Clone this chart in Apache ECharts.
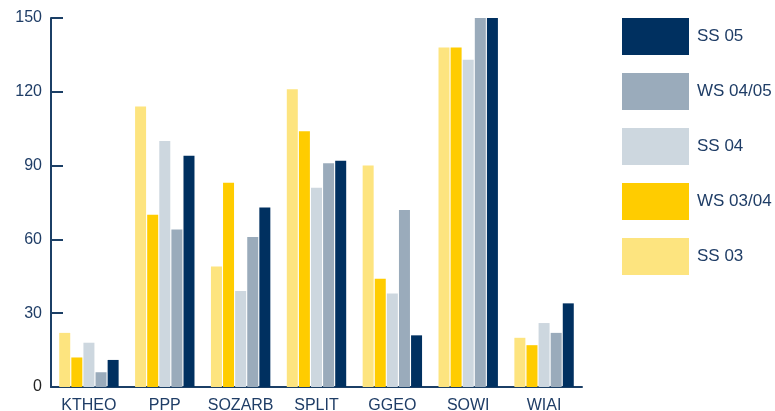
<!DOCTYPE html>
<html><head><meta charset="utf-8">
<script src="https://cdn.jsdelivr.net/npm/echarts@6/dist/echarts.min.js"></script>
<style>html,body{margin:0;padding:0;background:#fff}#c{width:775px;height:411px}</style>
</head><body><div id="c"></div>
<script>
const categories = ['KTHEO','PPP','SOZARB','SPLIT','GGEO','SOWI','WIAI'];
const seriesNames = ['SS 03','WS 03/04','SS 04','WS 04/05','SS 05'];
const ss03   = [22, 114, 49, 121, 90, 138, 20];
const ws0304 = [12, 70, 83, 104, 44, 138, 17];
const ss04   = [18, 100, 39, 81, 38, 133, 26];
const ws0405 = [6, 64, 61, 91, 72, 150, 22];
const ss05   = [11, 94, 73, 92, 21, 150, 34];
const yTicks = [0, 30, 60, 90, 120, 150];

const colors = ['#fde47f','#ffcc00','#cdd7df','#9aabbb','#003060'];
const values = [ss03, ws0304, ss04, ws0405, ss05];
const textColor = '#1f3d66';
const axisColor = '#1b3f66';

const chart = echarts.init(document.getElementById('c'), null, {renderer:'canvas'});
chart.setOption({
  animation: false,
  textStyle: {fontFamily: 'Liberation Sans, Arial, sans-serif'},
  grid: {left: 51, top: 18, width: 531, height: 369, containLabel: false, outerBoundsMode: 'none'},
  legend: {
    orient: 'vertical', left: 622, top: 18, padding: 0,
    itemWidth: 67, itemHeight: 37, itemGap: 18,
    data: seriesNames.slice().reverse(),
    textStyle: {color: textColor, fontSize: 17, padding: [0,0,0,3]},
    icon: 'rect', selectedMode: false
  },
  xAxis: {
    type: 'category', data: categories, boundaryGap: true,
    axisLine: {lineStyle: {color: axisColor, width: 2}},
    axisTick: {inside: true, length: 9, lineStyle: {color: axisColor, width: 2}},
    axisLabel: {color: textColor, fontSize: 16, margin: 11, interval: 0}
  },
  yAxis: {
    type: 'value', min: yTicks[0], max: yTicks[yTicks.length-1], interval: 30,
    axisLine: {show: true, lineStyle: {color: axisColor, width: 2}},
    axisTick: {show: true, inside: true, length: 12, lineStyle: {color: axisColor, width: 2}},
    splitLine: {show: false},
    axisLabel: {
      color: (v) => (Number(v) === 0 ? '#222222' : textColor),
      fontSize: 16, margin: 9, padding: [6, 0, 0, 0]
    }
  },
  series: seriesNames.map((n, i) => ({
    name: n, type: 'bar', data: values[i], barWidth: 11, barGap: '10%',
    itemStyle: {color: colors[i]}
  }))
});
</script></body></html>
